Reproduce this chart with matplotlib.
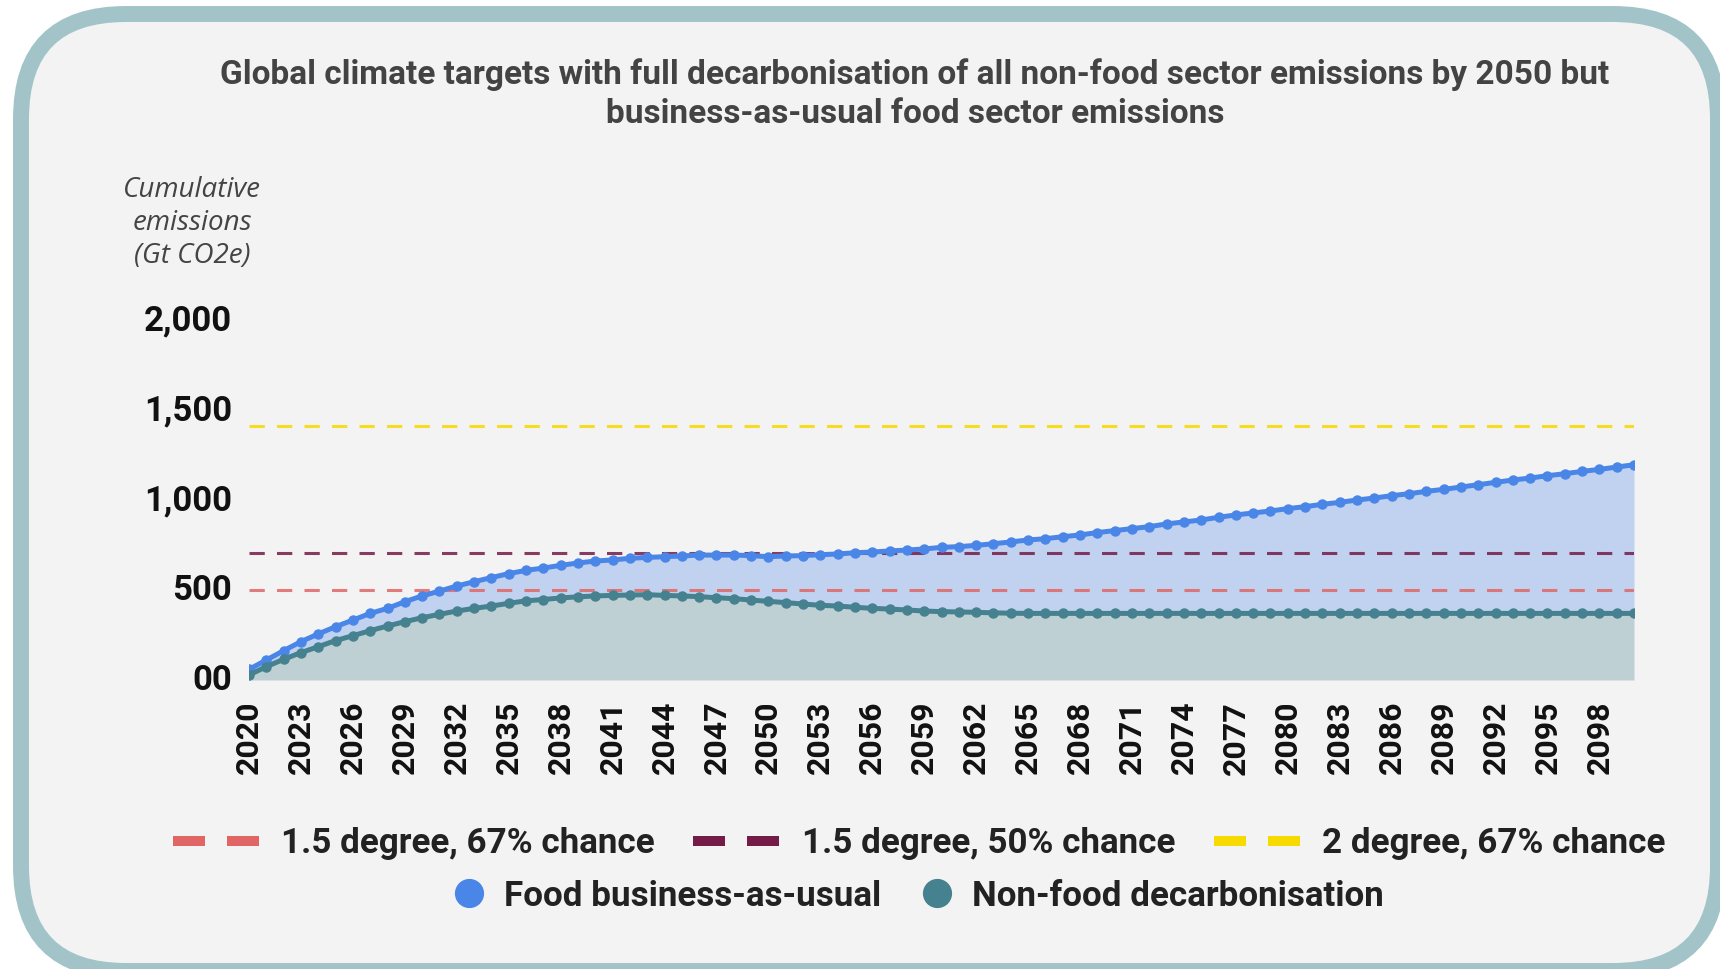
import numpy as np
import matplotlib
matplotlib.use("Agg")
import matplotlib.pyplot as plt
import matplotlib.transforms as mtransforms
from matplotlib.patches import FancyBboxPatch
from matplotlib.lines import Line2D

# ---------------- data ----------------
years = list(range(2020, 2101))
food_bau = [59, 111, 163, 213, 256, 296, 333, 370, 398, 435,
            467, 494, 522, 546, 569, 591, 609, 622, 637, 650,
            661, 667, 676, 681, 685, 689, 694, 694, 694, 691,
            685, 689, 691, 696, 700, 707, 711, 717, 722, 728,
            737, 741, 748, 757, 767, 778, 785, 796, 806, 819,
            830, 841, 852, 867, 878, 889, 904, 917, 928, 939,
            952, 963, 976, 987, 1000, 1011, 1024, 1035, 1048, 1059,
            1072, 1085, 1098, 1111, 1122, 1135, 1146, 1159, 1170, 1183,
            1196]
non_food = [28, 74, 115, 152, 185, 219, 246, 274, 300, 324,
            346, 365, 383, 398, 411, 426, 440, 447, 456, 462,
            467, 470, 472, 474, 470, 467, 463, 457, 452, 444,
            437, 430, 422, 415, 411, 404, 398, 394, 389, 383,
            380, 378, 376, 373, 371, 370, 370, 370, 370, 370,
            370, 370, 370, 370, 370, 370, 370, 370, 370, 370,
            370, 370, 370, 370, 370, 370, 370, 370, 370, 370,
            370, 370, 370, 370, 370, 370, 370, 370, 370, 370,
            370]
target_values = [500, 705, 1410]
target_labels = ["1.5 degree, 67% chance", "1.5 degree, 50% chance", "2 degree, 67% chance"]
series_labels = ["Food business-as-usual", "Non-food decarbonisation"]
ytick_values = [0, 500, 1000, 1500, 2000]
ytick_labels = ["00", "500", "1,000", "1,500", "2,000"]
xtick_years = years[::3]

title = ("Global climate targets with full decarbonisation of all non-food sector emissions by 2050 but\n"
         "business-as-usual food sector emissions")
ylabel = "Cumulative\nemissions\n(Gt CO2e)"

# ---------------- style ----------------
BLUE = "#4a86e8"
TEAL = "#45818e"
target_colors = ["#e06666", "#741b47", "#f7da00"]
BG = "#f3f3f3"
BORDER = "#a2c4c9"

W, H = 1720, 969
fig = plt.figure(figsize=(W / 100, H / 100), dpi=100)
fig.patch.set_facecolor("white")

# rounded card background
bgax = fig.add_axes([0, 0, 1, 1], zorder=-10)
bgax.set_xlim(0, W)
bgax.set_ylim(H, 0)
bgax.axis("off")
card = FancyBboxPatch((21, 14), 1697, 957, boxstyle="round,pad=0,rounding_size=105",
                      facecolor=BG, edgecolor=BORDER, linewidth=11.5)
bgax.add_patch(card)

# main plot
ax = fig.add_axes([249 / W, 1 - 680 / H, (1634 - 249) / W, 360 / H])
ax.set_facecolor("none")
ax.fill_between(years, non_food, food_bau, color=BLUE, alpha=0.3, lw=0, zorder=1)
ax.fill_between(years, 0, non_food, color=TEAL, alpha=0.3, lw=0, zorder=1)
for v, c in zip(target_values, target_colors):
    ax.axhline(v, color=c, lw=2.2, dashes=(5, 4), alpha=0.85, zorder=2)
ax.plot(years, food_bau, color=BLUE, lw=3.6, marker="o", ms=6.5, zorder=3)
ax.plot(years, non_food, color=TEAL, lw=3.6, marker="o", ms=6.5, zorder=3)

ax.set_xlim(years[0], years[-1])
ax.set_ylim(0, 2000)
for s in ax.spines.values():
    s.set_visible(False)
ax.set_xticks(xtick_years)
ax.set_xticklabels([str(y) for y in xtick_years], rotation=90, fontsize=23,
                   fontweight="bold", family="Roboto", color="#111111")
ax.set_yticks(ytick_values)
ax.set_yticklabels(ytick_labels, fontsize=25, fontweight="bold", family="Roboto", color="#111111")
ax.tick_params(axis="x", length=0, pad=15)
ax.tick_params(axis="y", length=0, pad=12)
shift_up = mtransforms.ScaledTranslation(0, 3 / 100, fig.dpi_scale_trans)
for lab in ax.get_yticklabels():
    lab.set_transform(lab.get_transform() + shift_up)

# title
fig.text(915 / W, 1 - 94 / H, title, ha="center", va="center", fontsize=24,
         fontweight="bold", family="Roboto", color="#434343", linespacing=1.27)

# y-axis label
fig.text(192 / W, 1 - 223 / H, ylabel, ha="center", va="center", fontsize=20,
         style="italic", family="Open Sans", color="#444444", linespacing=1.25)

# legends
h1 = [Line2D([], [], color=c, lw=7.2, dashes=(3.2, 2.2), solid_capstyle="butt",
             dash_capstyle="butt") for c in target_colors]
leg1 = fig.legend(h1, target_labels, loc="center", bbox_to_anchor=(919 / W, 1 - 844 / H),
                  ncol=3, frameon=False, handlelength=2.5, handletextpad=0.6,
                  columnspacing=1.1, borderpad=0, borderaxespad=0,
                  prop={"family": "Roboto", "weight": "bold", "size": 25.2})
for t in leg1.get_texts():
    t.set_color("#222222")

h2 = [Line2D([], [], color=c, lw=0, marker="o", ms=20) for c in (BLUE, TEAL)]
leg2 = fig.legend(h2, series_labels, loc="center", bbox_to_anchor=(919 / W, 1 - 896 / H),
                  ncol=2, frameon=False, handlelength=0.8, handletextpad=0.6,
                  columnspacing=1.2, borderpad=0, borderaxespad=0,
                  prop={"family": "Roboto", "weight": "bold", "size": 25.2})
for t in leg2.get_texts():
    t.set_color("#222222")

fig.savefig("out.png", dpi=100, facecolor=fig.get_facecolor())
